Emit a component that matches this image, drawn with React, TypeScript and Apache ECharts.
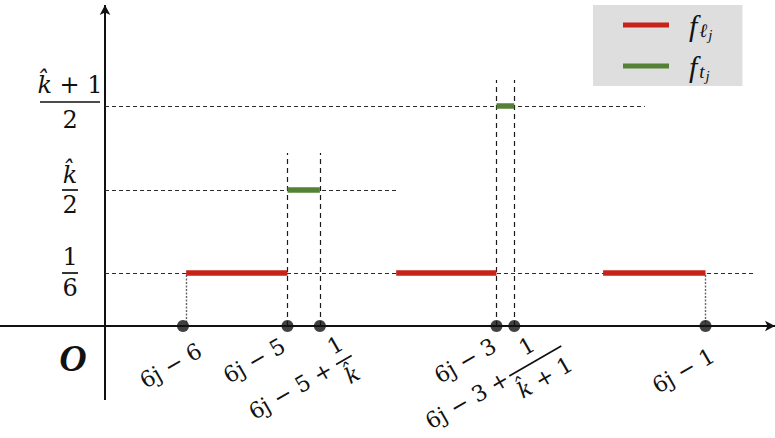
import React, { useEffect, useRef } from 'react';
import * as echarts from 'echarts';

// ---- data (schematic units: x = offset from 6j − 6, y = level height) ----
const pointLabels = ['6j − 6', '6j − 5', '6j − 5 +', '6j − 3', '6j − 3 +', '6j − 1'];
const pointFracNum = ['', '', '1', '', '1', ''];
const pointFracDen = ['', '', 'k̂', '', 'k̂ + 1', ''];
const pointX = [0, 1, 1.31, 3, 3.17, 5];
const pointGuideTop = [0.53, 1.73, 1.73, 2.46, 2.46, 0.53];

const levelNum = ['1', 'k̂', 'k̂ + 1'];
const levelDen = ['6', '2', '2'];
const levelY = [0.53, 1.36, 2.2];
const levelGuideEnd = [5.455, 2.057, 4.42];

const redStart = [0.03, 2.04, 4.02];
const redEnd = [1, 3, 5];
const redLevel = [0.53, 0.53, 0.53];
const greenStart = [1, 3];
const greenEnd = [1.31, 3.17];
const greenLevel = [1.36, 2.2];

const seriesNames = ['fℓj', 'ftj'];
const originLabel = 'O';

const axisOriginX = -0.746;
const xRange = [-1.751, 5.665];
const yRange = [-1.12, 3.26];
const yAxisEnds = [-0.74, 3.21];

// ---- layout / styling (not data) ----
const F = 'DejaVu Serif';
const FL = 'Liberation Serif';
const RED = '#c8231b';
const GREEN = '#548235';
const INK = '#111111';
const ROT = Math.PI / 6;
const XS = 22; // x label font size
const YS = 24; // y label font size
// per point label layout: anchor offset, bar width, prefix dx, numerator dy, denominator dy
const pointLabelLayout = [
  { dx: 17, dy: 23 },
  { dx: -4, dy: 18 },
  { dx: 24, dy: 34, barW: 18, pre: -15, nDy: -17, dDy: 17 },
  { dx: -2, dy: 18 },
  { dx: 21, dy: 35, barW: 60, pre: -32, nDy: -17, dDy: 19 },
  { dx: 7, dy: 28 },
];
const levelLabelLayout = [
  { dy: 0, barW: 16, nDy: -16, dDy: 15 },
  { dy: 0, barW: 16, nDy: -15, dDy: 15 },
  { dy: -4, barW: 60, nDy: -17, dDy: 18 },
];

function mstyle(s: string, size: number, align: string, valign: string) {
  const text = s.replace(/k\u0302/g, '{i|k\u0302}');
  return {
    text,
    font: `${size}px "${F}"`,
    fontFamily: F,
    fontSize: size,
    fill: INK,
    align,
    verticalAlign: valign,
    textAlign: align,
    textVerticalAlign: valign,
    rich: {
      i: { fontFamily: F, fontStyle: 'italic', fontSize: size, fill: INK },
    },
  };
}

function fractionChildren(num: string, den: string, barW: number, size: number, nDy: number, dDy: number) {
  return [
    { type: 'text', x: 0, y: nDy, style: mstyle(num, size, 'center', 'middle') },
    {
      type: 'line',
      shape: { x1: -barW / 2, y1: 0, x2: barW / 2, y2: 0 },
      style: { stroke: INK, lineWidth: 1.7 },
    },
    { type: 'text', x: 0, y: dDy, style: mstyle(den, size, 'center', 'middle') },
  ];
}

export default function App() {
  const ref = useRef<HTMLDivElement>(null);

  useEffect(() => {
    if (!ref.current) return;
    const chart = echarts.init(ref.current, null, { renderer: 'svg' });

    const segSeries: any[] = [];
    redStart.forEach((s, i) => {
      segSeries.push({
        type: 'line',
        name: seriesNames[0],
        data: [
          [s, redLevel[i]],
          [redEnd[i], redLevel[i]],
        ],
        symbol: 'none',
        silent: true,
        z: 10,
        itemStyle: { color: RED },
        lineStyle: { color: RED, width: 5.5, cap: 'butt' },
      });
    });
    greenStart.forEach((s, i) => {
      segSeries.push({
        type: 'line',
        name: seriesNames[1],
        data: [
          [s, greenLevel[i]],
          [greenEnd[i], greenLevel[i]],
        ],
        symbol: 'none',
        silent: true,
        z: 10,
        itemStyle: { color: GREEN },
        lineStyle: { color: GREEN, width: 5.5, cap: 'butt' },
      });
    });

    const guides: any[] = [];
    // axes
    guides.push([
      { coord: [xRange[0], 0], symbol: 'none', lineStyle: { color: INK, width: 2, type: 'solid' } },
      { coord: [xRange[1], 0], symbol: 'arrow', symbolSize: [8, 10] },
    ]);
    guides.push([
      { coord: [axisOriginX, yAxisEnds[0]], symbol: 'none', lineStyle: { color: INK, width: 2, type: 'solid' } },
      { coord: [axisOriginX, yAxisEnds[1]], symbol: 'arrow', symbolSize: [8, 10] },
    ]);
    levelY.forEach((y, i) => {
      guides.push([
        { coord: [axisOriginX, y], symbol: 'none', lineStyle: { color: '#2a2a2a', width: 1.2, type: [4, 3] } },
        { coord: [levelGuideEnd[i], y], symbol: 'none' },
      ]);
    });
    pointX.forEach((x, i) => {
      const dotted = i === 0 || i === pointX.length - 1;
      const gx = i === 0 ? redStart[0] : x;
      guides.push([
        {
          coord: [gx, 0],
          symbol: 'none',
          lineStyle: dotted
            ? { color: '#666', width: 1.4, type: [2, 1.5] }
            : { color: '#1a1a1a', width: 1.2, type: [5, 4] },
        },
        { coord: [gx, pointGuideTop[i]], symbol: 'none' },
      ]);
    });

    const option: any = {
      animation: false,
      grid: { left: 0, right: 0, top: 0, bottom: 0, containLabel: false },
      xAxis: { type: 'value', min: xRange[0], max: xRange[1], show: false },
      yAxis: { type: 'value', min: yRange[0], max: yRange[1], show: false },
      legend: {
        data: seriesNames,
        orient: 'vertical',
        left: 593,
        top: 5,
        icon: 'rect',
        itemWidth: 46,
        itemHeight: 5,
        itemGap: 7,
        selectedMode: false,
        backgroundColor: '#dedede',
        padding: [3, 30, 3, 30],
        formatter: (n: string) => (n === seriesNames[0] ? '{f|f}{s|ℓ}{ss|j}' : '{f|f}{s|t}{ss|j}'),
        textStyle: {
          rich: {
            f: { fontFamily: FL, fontStyle: 'italic', fontSize: 30, lineHeight: 34, color: INK, padding: [0, 2, 0, 15] },
            s: { fontFamily: FL, fontStyle: 'italic', fontSize: 19, lineHeight: 19, color: INK, padding: [10, 1, 0, 0] },
            ss: { fontFamily: FL, fontStyle: 'italic', fontSize: 15, lineHeight: 15, color: INK, padding: [19, 0, 0, 0] },
          },
        },
      },
      series: [
        ...segSeries,
        {
          type: 'scatter',
          name: 'points',
          data: pointX.map((x) => [x, 0]),
          symbol: 'circle',
          symbolSize: 12,
          itemStyle: { color: INK },
          silent: true,
          z: 12,
          markLine: {
            silent: true,
            z: 5,
            animation: false,
            label: { show: false },
            emphasis: { disabled: true },
            data: guides,
          },
        },
      ],
    };
    chart.setOption(option);

    const p = (x: number, y: number) => chart.convertToPixel({ gridIndex: 0 }, [x, y]) as number[];
    const origin = p(axisOriginX, 0);
    const graphics: any[] = [];

    levelY.forEach((y, i) => {
      const py = p(axisOriginX, y);
      const L = levelLabelLayout[i];
      graphics.push({
        type: 'group',
        x: origin[0] - 35,
        y: py[1] + L.dy,
        children: fractionChildren(levelNum[i], levelDen[i], L.barW, YS, L.nDy, L.dDy),
      });
    });

    pointX.forEach((x, i) => {
      const pp = p(x, 0);
      const L: any = pointLabelLayout[i];
      if (pointFracNum[i]) {
        const children: any[] = fractionChildren(pointFracNum[i], pointFracDen[i], L.barW, XS, L.nDy, L.dDy);
        children.push({ type: 'text', x: L.pre, y: 0, style: mstyle(pointLabels[i], XS, 'right', 'middle') });
        graphics.push({ type: 'group', x: pp[0] + L.dx, y: pp[1] + L.dy, rotation: ROT, children });
      } else {
        graphics.push({
          type: 'group',
          x: pp[0] + L.dx,
          y: pp[1] + L.dy,
          rotation: ROT,
          children: [{ type: 'text', x: 0, y: 0, style: mstyle(pointLabels[i], XS, 'right', 'middle') }],
        });
      }
    });

    graphics.push({
      type: 'text',
      x: origin[0] - 32,
      y: origin[1] + 32,
      style: {
        text: originLabel,
        font: `italic bold 38px "${FL}"`,
        fontFamily: FL,
        fontStyle: 'italic',
        fontWeight: 'bold',
        fontSize: 38,
        fill: INK,
        align: 'center',
        verticalAlign: 'middle',
        textAlign: 'center',
        textVerticalAlign: 'middle',
      },
    });

    chart.setOption({ graphic: { elements: graphics } });

    return () => chart.dispose();
  }, []);

  return (
    <div
      ref={ref}
      style={{ position: 'fixed', left: 0, top: 0, width: 775, height: 438, background: '#ffffff' }}
    />
  );
}
